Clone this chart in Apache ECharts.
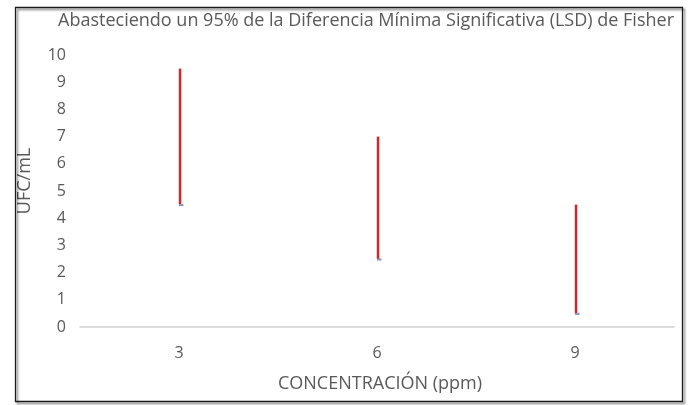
<!DOCTYPE html>
<html>
<head>
<meta charset="utf-8">
<script src="https://cdn.jsdelivr.net/npm/echarts@6/dist/echarts.min.js"></script>
<style>
html,body{margin:0;padding:0;background:#fff;}
#chart{width:690px;height:405px;}
</style>
</head>
<body>
<div id="chart"></div>
<script>
var categories = ['3', '6', '9'];
var upperValues = [9.5, 7.0, 4.5];
var lowerValues = [4.5, 2.5, 0.5];
var yTicks = [0, 1, 2, 3, 4, 5, 6, 7, 8, 9, 10];

var FONT = 'Open Sans';
var TXT = '#595959';

var chart = echarts.init(document.getElementById('chart'));
var data = categories.map(function (c, i) { return [i, lowerValues[i], upperValues[i]]; });

chart.setOption({
  animation: false,
  backgroundColor: '#ffffff',
  grid: { left: 80, right: 16, top: 55, bottom: 78 },
  xAxis: {
    type: 'category',
    data: categories,
    axisLine: { show: true, lineStyle: { color: '#d0d0d0', width: 1.5 } },
    axisTick: { show: false },
    axisLabel: { color: TXT, fontFamily: FONT, fontSize: 16, margin: 18 },
    splitLine: { show: false }
  },
  yAxis: {
    type: 'value',
    min: yTicks[0],
    max: yTicks[yTicks.length - 1],
    interval: 1,
    axisLine: { show: false },
    axisTick: { show: false },
    splitLine: { show: false },
    axisLabel: { color: TXT, fontFamily: FONT, fontSize: 16, margin: 14, padding: [4, 0, 0, 0] }
  },
  series: [{
    type: 'custom',
    data: data,
    encode: { x: 0, y: [1, 2] },
    renderItem: function (params, api) {
      var x = api.value(0);
      var lo = api.coord([x, api.value(1)]);
      var hi = api.coord([x, api.value(2)]);
      return {
        type: 'group',
        children: [
          { type: 'line', shape: { x1: lo[0] + 1, y1: lo[1], x2: hi[0] + 1, y2: hi[1] },
            style: { stroke: '#d0262c', lineWidth: 2.5 } },
          { type: 'rect', shape: { x: lo[0], y: lo[1] - 0.5, width: 4.5, height: 2 },
            style: { fill: '#8f8fc8' } }
        ]
      };
    }
  }],
  graphic: [
    { type: 'rect', left: 13, top: 5, shape: { width: 667, height: 394 },
      style: { fill: 'none', stroke: '#1a1a1a', lineWidth: 1.3, shadowColor: 'rgba(0,0,0,0.5)', shadowBlur: 2, shadowOffsetX: 2, shadowOffsetY: 2 }, z: 100 },
    { type: 'text', x: 366, y: 21,
      style: { text: 'Abasteciendo un 95% de la Diferencia Mínima Significativa (LSD) de Fisher', fill: TXT, font: '18px "' + FONT + '"', textAlign: 'center', textVerticalAlign: 'middle' } },
    { type: 'text', x: 25, y: 181, rotation: Math.PI / 2,
      style: { text: 'UFC/mL', fill: TXT, font: '18px "' + FONT + '"', textAlign: 'center', textVerticalAlign: 'middle' } },
    { type: 'text', x: 380, y: 384,
      style: { text: 'CONCENTRACIÓN (ppm)', fill: TXT, font: '18px "' + FONT + '"', textAlign: 'center', textVerticalAlign: 'middle' } }
  ]
});
</script>
</body>
</html>
